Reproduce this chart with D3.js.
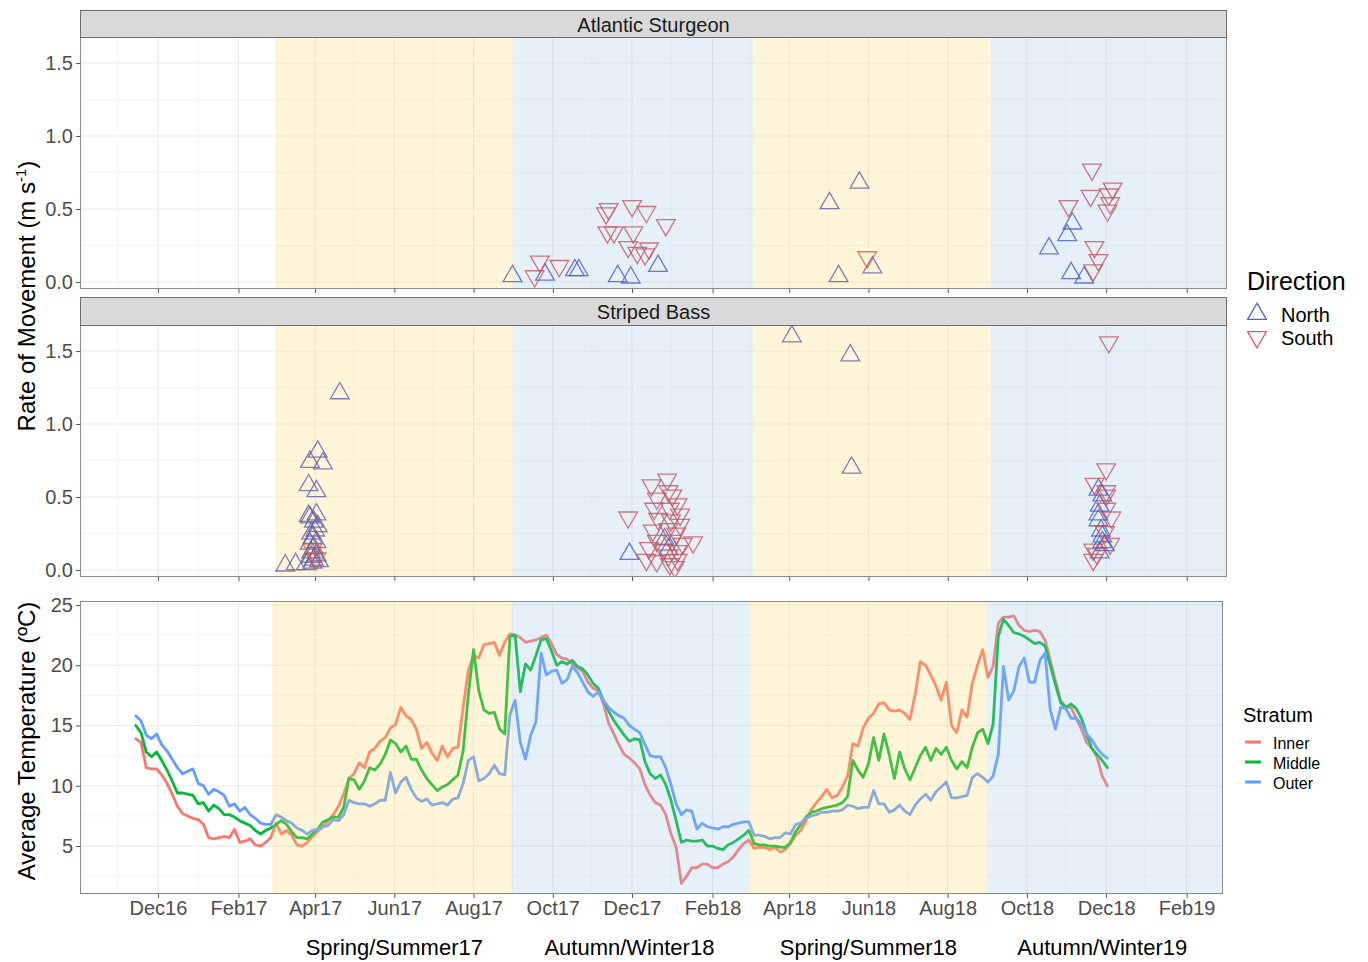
<!DOCTYPE html>
<html>
<head>
<meta charset="utf-8">
<title>Movement rates and water temperature</title>
<script src="https://cdn.jsdelivr.net/npm/d3@7/dist/d3.min.js"></script>
<style>
  html, body { margin: 0; padding: 0; background: #ffffff; }
  svg { display: block; font-family: "Liberation Sans", Arial, Helvetica, sans-serif; }
</style>
</head>
<body>
<svg id="chart" width="1368" height="962"></svg>
<script>
// ---------------- data ----------------
const speciesNames = ["Atlantic Sturgeon", "Striped Bass"];
const directions = ["North", "South"];
const strata = ["Inner", "Middle", "Outer"];

// rate of movement (m s-1) per detected passage: [date, rate]
const sturgeonNorth = [
  ["2017-08-31",0.04],["2017-09-25",0.05],["2017-10-18",0.08],["2017-10-21",0.08],
  ["2017-11-20",0.04],["2017-11-30",0.03],["2017-12-21",0.11],
  ["2018-05-25",0.68],["2018-05-02",0.54],["2018-05-09",0.04],["2018-06-04",0.10],
  ["2018-11-05",0.40],["2018-11-01",0.32],["2018-10-18",0.23],["2018-11-04",0.06],["2018-11-14",0.03]
];
const sturgeonSouth = [
  ["2017-09-21",0.14],["2017-09-17",0.04],["2017-10-06",0.11],["2017-11-13",0.50],
  ["2017-11-11",0.47],["2017-12-01",0.52],["2017-12-12",0.48],["2017-12-27",0.39],
  ["2017-11-12",0.34],["2017-11-17",0.34],["2017-12-02",0.34],["2017-11-28",0.24],
  ["2017-12-14",0.23],["2017-12-05",0.20],["2017-12-11",0.19],
  ["2018-05-31",0.17],["2018-11-20",0.77],["2018-12-06",0.64],["2018-11-19",0.59],
  ["2018-12-03",0.60],["2018-12-04",0.54],["2018-12-02",0.49],["2018-11-02",0.52],
  ["2018-11-22",0.24],["2018-11-25",0.15],["2018-11-21",0.08]
];
const bassNorth = [
  ["2017-04-20",1.21],["2017-04-03",0.81],["2017-03-28",0.74],["2017-04-07",0.73],
  ["2017-03-27",0.58],["2017-04-02",0.54],["2017-03-27",0.37],["2017-04-02",0.38],
  ["2017-03-28",0.36],["2017-04-03",0.30],["2017-03-29",0.25],["2017-03-30",0.22],
  ["2017-04-02",0.19],["2017-03-28",0.18],["2017-03-29",0.12],["2017-03-29",0.09],
  ["2017-03-30",0.05],["2017-03-09",0.03],["2017-03-17",0.04],["2017-03-25",0.04],
  ["2017-04-04",0.06],["2017-03-31",0.15],["2017-04-01",0.27],["2017-03-31",0.33],
  ["2017-04-02",0.10],["2017-03-31",0.07],
  ["2017-11-29",0.11],["2017-12-26",0.21],["2017-12-29",0.14],
  ["2018-04-03",1.60],["2018-05-18",1.47],["2018-05-19",0.70],
  ["2018-11-25",0.55],["2018-11-28",0.51],["2018-11-26",0.44],["2018-11-25",0.38],
  ["2018-11-25",0.34],["2018-11-27",0.27],["2018-11-28",0.23],["2018-11-28",0.19],
  ["2018-11-30",0.17],["2018-11-26",0.12]
];
const bassSouth = [
  ["2017-03-30",0.14],["2017-04-02",0.08],
  ["2017-11-28",0.36],["2017-12-28",0.62],["2017-12-16",0.58],["2017-12-29",0.54],
  ["2018-01-01",0.51],["2017-12-20",0.49],["2018-01-05",0.45],["2017-12-18",0.42],
  ["2017-12-30",0.42],["2018-01-07",0.38],["2017-12-21",0.35],["2017-12-31",0.34],
  ["2018-01-07",0.31],["2017-12-17",0.27],["2017-12-29",0.28],["2018-01-04",0.25],
  ["2017-12-20",0.20],["2018-01-01",0.20],["2018-01-17",0.19],["2018-01-09",0.18],
  ["2017-12-14",0.15],["2017-12-25",0.14],["2018-01-05",0.13],["2017-12-12",0.07],
  ["2017-12-20",0.06],["2017-12-30",0.04],["2018-01-05",0.07],["2017-12-29",0.10],
  ["2018-01-03",0.02],
  ["2018-12-03",1.56],["2018-12-01",0.69],["2018-11-22",0.59],["2018-12-01",0.54],
  ["2018-12-01",0.51],["2018-12-01",0.42],["2018-12-05",0.36],["2018-11-30",0.26],
  ["2018-12-04",0.18],["2018-11-21",0.14],["2018-11-24",0.11],["2018-11-21",0.07]
];

// average water temperature (°C), one reading every 4 days from the start date
const tempStart = "2016-11-14";
const tempStepDays = 4;
const innerTemp = [
  13.9,13.6,11.5,11.4,11.4,10.9,10.2,9.3,8.3,7.7,7.5,7.3,7.2,6.8,5.7,5.6,5.7,5.8,5.7,6.4,
  5.3,5.4,5.6,5.1,5.0,5.3,5.7,6.9,6.0,6.3,5.9,5.1,5.0,5.3,5.8,6.2,6.6,7.1,7.6,8.3,
  9.3,10.6,11.0,11.9,11.5,12.8,13.1,13.7,14.0,14.8,15.1,16.5,15.8,15.5,14.7,13.1,13.6,12.7,12.1,13.3,
  12.4,13.1,13.2,16.5,19.6,20.8,20.6,21.7,21.8,21.9,20.8,21.9,22.6,22.5,22.3,21.9,22.0,22.1,22.3,22.5,
  21.8,20.9,20.6,20.5,20.1,19.8,19.5,18.6,18.1,17.9,16.8,15.2,14.3,13.4,12.6,12.3,11.9,11.4,10.1,9.2,
  8.6,8.4,7.6,6.0,4.9,1.9,2.5,3.2,3.2,3.5,3.5,3.2,3.2,3.5,3.7,4.1,4.7,5.2,5.5,4.8,
  4.9,4.9,4.7,4.9,4.5,4.7,5.2,5.9,6.3,7.1,8.0,8.6,9.1,9.7,9.0,9.2,9.9,10.8,13.5,13.3,
  14.8,15.6,16.0,16.8,16.9,16.3,16.2,16.3,16.0,15.5,17.6,20.3,20.0,19.2,18.3,17.1,18.6,15.0,14.4,16.3,
  15.7,18.5,20.0,21.3,19.0,19.9,23.5,24.0,24.0,24.1,23.3,22.9,22.8,22.9,22.8,22.1,20.4,18.7,17.1,16.5,
  16.5,15.6,14.7,13.6,13.1,12.4,10.8,10.0
];
const middleTemp = [
  15.0,14.4,12.8,12.4,12.8,12.1,11.3,10.4,9.4,9.4,9.3,9.2,8.5,8.6,7.9,8.4,8.1,7.6,7.6,7.4,
  7.1,6.9,6.7,6.3,6.0,6.3,6.5,6.8,7.1,6.8,6.2,5.7,5.7,5.6,6.0,6.4,7.0,7.2,7.4,7.4,
  8.2,10.6,10.5,9.7,10.4,11.5,11.3,11.8,12.6,13.8,13.5,12.8,13.3,12.2,12.2,11.3,10.6,10.1,9.6,9.9,
  10.1,10.5,10.9,12.9,17.6,21.3,17.9,16.3,16.0,16.1,14.7,14.3,22.4,22.5,17.8,20.1,19.6,20.8,22.1,22.2,
  21.2,20.0,20.3,20.1,20.4,19.9,19.7,19.2,18.5,18.1,17.1,16.2,15.4,14.8,14.2,13.7,13.9,13.8,12.0,11.0,
  10.6,10.9,10.1,8.8,7.1,5.3,5.5,5.4,5.4,5.5,5.0,5.0,4.8,4.7,5.1,5.3,5.6,5.9,6.3,5.2,
  5.1,5.1,5.0,5.0,4.9,4.9,5.3,6.2,6.8,7.4,7.8,7.9,8.1,8.2,8.3,8.4,8.6,9.1,12.1,11.3,
  10.7,11.8,14.0,12.1,14.3,12.6,10.6,12.8,11.4,10.5,11.5,12.5,13.2,12.1,13.1,12.6,13.2,12.1,11.4,12.0,
  11.5,13.2,14.4,14.7,13.5,15.1,22.4,23.8,23.3,22.7,22.6,22.4,22.1,21.8,21.9,21.6,20.0,18.4,16.9,16.5,
  16.8,16.4,15.6,14.3,13.1,12.6,12.1,11.5
];
const outerTemp = [
  15.8,15.4,14.2,13.9,14.3,13.4,12.9,12.2,11.5,11.0,11.2,11.4,10.2,10.0,9.3,9.7,9.5,9.2,8.3,8.5,
  7.9,8.2,7.6,7.3,6.9,6.8,6.8,7.6,7.4,7.1,6.9,6.5,6.3,6.0,6.3,6.4,6.6,6.7,7.2,7.1,
  7.6,8.8,8.6,8.5,8.5,8.3,8.5,8.8,8.8,11.1,9.4,10.3,10.7,9.7,9.0,8.7,8.9,8.4,8.5,8.6,
  8.4,8.9,9.0,10.2,12.1,12.4,10.4,10.6,11.0,11.7,11.0,10.9,15.9,17.1,13.6,12.2,14.2,15.3,21.0,19.2,
  19.5,19.6,18.5,18.8,19.9,19.4,18.6,17.8,17.4,17.8,17.1,16.5,16.1,15.8,15.6,15.0,14.7,14.4,13.4,12.5,
  12.4,12.4,11.5,10.1,8.5,7.6,8.0,7.9,6.4,6.9,6.6,6.5,6.4,6.6,6.6,6.8,6.9,7.0,7.0,5.9,
  5.9,5.8,5.6,5.7,5.7,6.1,6.0,6.8,6.9,7.3,7.5,7.6,7.8,7.8,7.9,7.9,8.0,8.4,8.3,8.1,
  8.2,8.2,9.6,8.5,8.5,7.8,8.0,8.4,7.9,7.6,8.4,8.9,9.3,8.8,9.5,9.9,10.3,9.0,9.0,9.1,
  9.2,10.7,11.0,10.7,10.3,10.8,12.6,19.9,17.1,17.9,19.9,20.6,18.6,18.6,20.4,21.0,16.3,14.7,16.5,16.4,
  15.6,15.6,15.1,14.3,13.8,13.1,12.6,12.3
];

// axis breaks
const monthTicks = ["2016-12-01","2017-02-01","2017-04-01","2017-06-01","2017-08-01","2017-10-01","2017-12-01",
                    "2018-02-01","2018-04-01","2018-06-01","2018-08-01","2018-10-01","2018-12-01","2019-02-01"];
const monthMinor = ["2016-10-31","2017-01-01","2017-03-02","2017-05-01","2017-07-01","2017-08-31","2017-10-31",
                    "2017-12-31","2018-03-02","2018-05-01","2018-07-01","2018-08-31","2018-10-31","2018-12-31","2019-03-02"];
const rateTicks = [0, 0.5, 1.0, 1.5];
const rateMinor = [0.25, 0.75, 1.25];
const tempTicks = [5, 10, 15, 20, 25];
const tempMinor = [2.5, 7.5, 12.5, 17.5, 22.5];

// seasons
const seasonNames = ["Spring/Summer17", "Autumn/Winter18", "Spring/Summer18", "Autumn/Winter19"];
const seasonKinds = ["warm", "cold", "warm", "cold"];
const movementSeasonStarts = ["2017-03-02", "2017-09-01", "2018-03-04", "2018-09-03"];
const temperatureSeasonStarts = ["2017-02-27", "2017-08-30", "2018-03-01", "2018-09-01"];
const seasonLabelDates = ["2017-06-01", "2017-11-29", "2018-06-01", "2018-11-28"];

// ---------------- drawing ----------------
const parse = d3.timeParse("%Y-%m-%d");
const svg = d3.select("#chart");

const C = {
  north: "#2d37c0", south: "#cf3236",
  warm: "#ffd966", cold: "#9dc3e6",
  grid: "#ebebeb", gridMinor: "#f2f2f2",
  border: "#8a8a8a", tickText: "#4d4d4d",
  strata: { Inner: "#f8766d", Middle: "#00ba38", Outer: "#619cff" }
};

const movementPanels = [
  { name: speciesNames[0], strip: [10, 37], box: [37, 289], north: sturgeonNorth, south: sturgeonSouth },
  { name: speciesNames[1], strip: [297, 325], box: [325, 577], north: bassNorth, south: bassSouth }
];
const tempBox = { x0: 80, x1: 1223, y0: 601, y1: 894 };

const xMove = d3.scaleTime().domain([parse("2016-10-02"), parse("2019-03-04")]).range([80, 1227]);
const xTemp = d3.scaleTime().domain([parse("2016-10-02"), parse("2019-03-01")]).range([tempBox.x0, tempBox.x1]);

let clipId = 0;
function addClip(x0, y0, x1, y1) {
  const id = "clip" + (clipId++);
  svg.append("clipPath").attr("id", id).append("rect")
    .attr("x", x0).attr("y", y0).attr("width", x1 - x0).attr("height", y1 - y0);
  return "url(#" + id + ")";
}

function drawGrid(g, x, y, x0, x1, y0, y1, yMajor, yMinor) {
  const inX = d => { const v = x(parse(d)); return v >= x0 && v <= x1; };
  g.append("g").selectAll("line").data(monthMinor.filter(inX)).join("line")
    .attr("x1", d => x(parse(d))).attr("x2", d => x(parse(d)))
    .attr("y1", y0).attr("y2", y1).attr("stroke", C.gridMinor).attr("stroke-width", 0.8);
  g.append("g").selectAll("line").data(yMinor).join("line")
    .attr("x1", x0).attr("x2", x1).attr("y1", d => y(d)).attr("y2", d => y(d))
    .attr("stroke", C.gridMinor).attr("stroke-width", 0.8);
  g.append("g").selectAll("line").data(monthTicks.filter(inX)).join("line")
    .attr("x1", d => x(parse(d))).attr("x2", d => x(parse(d)))
    .attr("y1", y0).attr("y2", y1).attr("stroke", C.grid).attr("stroke-width", 1.2);
  g.append("g").selectAll("line").data(yMajor).join("line")
    .attr("x1", x0).attr("x2", x1).attr("y1", d => y(d)).attr("y2", d => y(d))
    .attr("stroke", C.grid).attr("stroke-width", 1.2);
}

function drawBands(g, x, starts, endDate, y0, y1) {
  const bands = starts.map((s, i) => ({
    start: parse(s),
    end: i < starts.length - 1 ? parse(starts[i + 1]) : endDate,
    kind: seasonKinds[i]
  }));
  g.append("g").selectAll("rect").data(bands).join("rect")
    .attr("x", d => x(d.start)).attr("width", d => x(d.end) - x(d.start))
    .attr("y", y0).attr("height", y1 - y0)
    .attr("fill", d => C[d.kind]).attr("fill-opacity", 0.25);
}

const triangle = d3.symbol().type(d3.symbolTriangle).size(152)();

movementPanels.forEach(p => {
  const [y0, y1] = p.box;
  const y = d3.scaleLinear().domain([-0.048, 1.678]).range([y1, y0]);
  const g = svg.append("g");

  g.append("rect").attr("x", 80).attr("y", y0).attr("width", 1147).attr("height", y1 - y0).attr("fill", "#fff");
  drawGrid(g, xMove, y, 80, 1227, y0, y1, rateTicks, rateMinor);

  const clip = addClip(80, y0, 1227, y1);
  const marks = g.append("g").attr("clip-path", clip);
  marks.selectAll("path.n").data(p.north).join("path").attr("class", "n")
    .attr("d", triangle)
    .attr("transform", d => `translate(${xMove(parse(d[0]))},${y(d[1])})`)
    .attr("fill", "none").attr("stroke", C.north).attr("stroke-width", 1.3).attr("stroke-opacity", 0.8);
  marks.selectAll("path.s").data(p.south).join("path").attr("class", "s")
    .attr("d", triangle)
    .attr("transform", d => `translate(${xMove(parse(d[0]))},${y(d[1])}) rotate(180)`)
    .attr("fill", "none").attr("stroke", C.south).attr("stroke-width", 1.3).attr("stroke-opacity", 0.8);

  drawBands(g.append("g").attr("clip-path", clip), xMove, movementSeasonStarts, xMove.domain()[1], y0, y1);

  g.append("rect").attr("x", 80.5).attr("y", y0 + 0.5).attr("width", 1146).attr("height", y1 - y0 - 1)
    .attr("fill", "none").attr("stroke", C.border).attr("stroke-width", 1);

  // strip
  const [s0, s1] = p.strip;
  g.append("rect").attr("x", 80.5).attr("y", s0 + 0.5).attr("width", 1146).attr("height", s1 - s0)
    .attr("fill", "#d9d9d9").attr("stroke", "#6e6e6e").attr("stroke-width", 1);
  g.append("text").attr("x", (80 + 1227) / 2).attr("y", (s0 + s1) / 2 + 1).attr("dy", "0.35em")
    .attr("text-anchor", "middle").attr("font-size", 20).attr("fill", "#1a1a1a").text(p.name);

  // y axis
  const ya = g.append("g").attr("transform", "translate(80,0)")
    .call(d3.axisLeft(y).tickValues(rateTicks).tickFormat(d3.format(".1f")).tickSize(4).tickPadding(3));
  ya.attr("font-family", null);
  ya.select(".domain").remove();
  ya.selectAll("line").attr("stroke", "#555");
  ya.selectAll("text").attr("font-size", 20).attr("fill", C.tickText);

  // x ticks (no labels)
  const xa = g.append("g").attr("transform", `translate(0,${y1})`)
    .call(d3.axisBottom(xMove).tickValues(monthTicks.map(parse)).tickFormat("").tickSize(4));
  xa.select(".domain").remove();
  xa.selectAll("line").attr("stroke", "#555");
});

// temperature panel
{
  const { x0, x1, y0, y1 } = tempBox;
  const y = d3.scaleLinear().domain([1.02, 25.33]).range([y1, y0]);
  const g = svg.append("g");
  g.append("rect").attr("x", x0).attr("y", y0).attr("width", x1 - x0).attr("height", y1 - y0).attr("fill", "#fff");
  drawGrid(g, xTemp, y, x0, x1, y0, y1, tempTicks, tempMinor);

  const clip = addClip(x0, y0, x1, y1);
  const series = [
    { name: strata[0], values: innerTemp },
    { name: strata[1], values: middleTemp },
    { name: strata[2], values: outerTemp }
  ];
  const start = parse(tempStart);
  const line = d3.line()
    .x((d, i) => xTemp(d3.timeDay.offset(start, i * tempStepDays)))
    .y(d => y(d));
  g.append("g").attr("clip-path", clip).selectAll("path").data(series).join("path")
    .attr("d", d => line(d.values))
    .attr("fill", "none").attr("stroke", d => C.strata[d.name])
    .attr("stroke-width", 2.8).attr("stroke-linejoin", "round").attr("stroke-linecap", "round");

  drawBands(g.append("g").attr("clip-path", clip), xTemp, temperatureSeasonStarts, xTemp.domain()[1], y0, y1);

  g.append("rect").attr("x", x0 + 0.5).attr("y", y0 + 0.5).attr("width", x1 - x0 - 1).attr("height", y1 - y0 - 1)
    .attr("fill", "none").attr("stroke", C.border).attr("stroke-width", 1);

  const ya = g.append("g").attr("transform", `translate(${x0},0)`)
    .call(d3.axisLeft(y).tickValues(tempTicks).tickFormat(d3.format("d")).tickSize(4).tickPadding(3));
  ya.attr("font-family", null);
  ya.select(".domain").remove();
  ya.selectAll("line").attr("stroke", "#555");
  ya.selectAll("text").attr("font-size", 20).attr("fill", C.tickText);

  const xa = g.append("g").attr("transform", `translate(0,${y1})`)
    .call(d3.axisBottom(xTemp).tickValues(monthTicks.map(parse)).tickFormat(d3.timeFormat("%b%y")).tickSize(4).tickPadding(3));
  xa.attr("font-family", null);
  xa.select(".domain").remove();
  xa.selectAll("line").attr("stroke", "#555");
  xa.selectAll("text").attr("font-size", 20).attr("fill", C.tickText);

  // season names
  svg.append("g").selectAll("text").data(seasonNames).join("text")
    .attr("x", (d, i) => xTemp(parse(seasonLabelDates[i])))
    .attr("y", 947).attr("dy", "0.35em").attr("text-anchor", "middle")
    .attr("font-size", 22).attr("fill", "#000").text(d => d);
}

// axis titles
const rateTitle = svg.append("text")
  .attr("transform", "translate(35,296) rotate(-90)")
  .attr("text-anchor", "middle").attr("font-size", 24).attr("fill", "#000");
rateTitle.append("tspan").text("Rate of Movement (m s");
rateTitle.append("tspan").attr("dy", -9).attr("font-size", 15).text("-1");
rateTitle.append("tspan").attr("dy", 9).text(")");

svg.append("text")
  .attr("transform", "translate(35,741) rotate(-90)")
  .attr("text-anchor", "middle").attr("font-size", 24).attr("fill", "#000")
  .text("Average Temperature (ºC)");

// Direction legend
{
  const g = svg.append("g");
  g.append("text").attr("x", 1247).attr("y", 281).attr("dy", "0.35em")
    .attr("font-size", 25).attr("fill", "#000").text("Direction");
  const items = directions.map((d, i) => ({ name: d, y: 314 + i * 23, rot: i === 0 ? 0 : 180, color: i === 0 ? C.north : C.south }));
  g.selectAll("path").data(items).join("path")
    .attr("d", triangle)
    .attr("transform", d => `translate(1257,${d.y}) rotate(${d.rot})`)
    .attr("fill", "none").attr("stroke", d => d.color).attr("stroke-width", 1.3).attr("stroke-opacity", 0.8);
  g.selectAll("text.item").data(items).join("text").attr("class", "item")
    .attr("x", 1281).attr("y", d => d.y + 1).attr("dy", "0.35em")
    .attr("font-size", 20).attr("fill", "#000").text(d => d.name);
}

// Stratum legend
{
  const g = svg.append("g");
  g.append("text").attr("x", 1243).attr("y", 715).attr("dy", "0.35em")
    .attr("font-size", 20).attr("fill", "#000").text("Stratum");
  const items = strata.map((s, i) => ({ name: s, y: 742 + i * 20 }));
  g.selectAll("line").data(items).join("line")
    .attr("x1", 1245).attr("x2", 1261).attr("y1", d => d.y).attr("y2", d => d.y)
    .attr("stroke", d => C.strata[d.name]).attr("stroke-width", 3);
  g.selectAll("text.item").data(items).join("text").attr("class", "item")
    .attr("x", 1273).attr("y", d => d.y + 1).attr("dy", "0.35em")
    .attr("font-size", 16).attr("fill", "#000").text(d => d.name);
}
</script>
</body>
</html>
